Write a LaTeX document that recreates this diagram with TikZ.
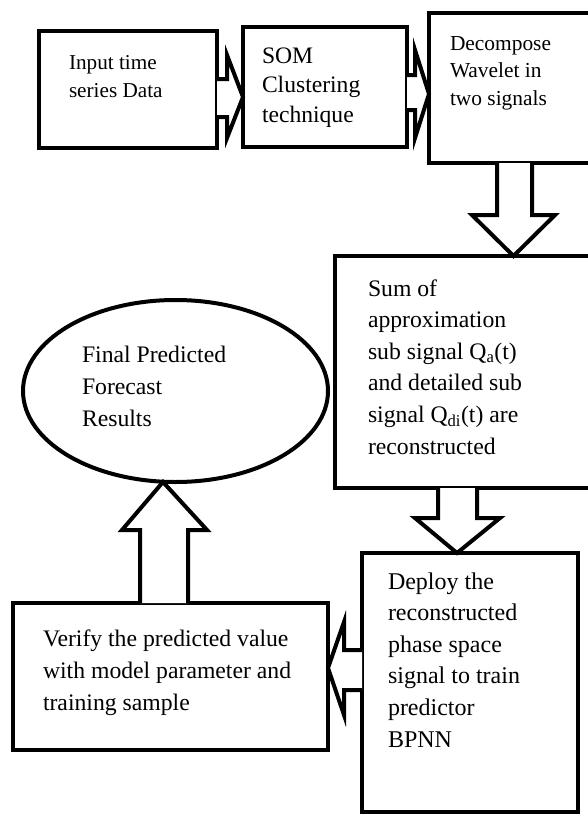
\documentclass[tikz,border=0pt]{standalone}
\usepackage{fontspec}
\setmainfont{Liberation Serif}
\usetikzlibrary{calc,shapes.geometric}
\begin{document}
\begin{tikzpicture}[x=1pt,y=-1pt,
  box/.style={draw,line width=4pt,rectangle,inner sep=0pt,outer sep=0pt},
  oval/.style={draw,line width=4pt,ellipse,inner sep=0pt,outer sep=0pt},
  barrow/.style={draw,line width=4pt,fill=white,line join=miter},
  txt/.style={anchor=base west,align=left,inner sep=0pt,outer sep=0pt},
  small/.style={font=\fontsize{21.2}{28}\selectfont},
  large/.style={font=\fontsize{23.7}{31.6}\selectfont}]
\useasboundingbox (0,0) rectangle (588,814);
\clip (0,0) rectangle (588,814);
% boxes
\node[box,minimum width=178pt,minimum height=117pt] (b1) at (128,89.5) {};
\node[box,minimum width=164pt,minimum height=120pt] (b2) at (325,87) {};
\node[box,minimum width=191pt,minimum height=150pt] (b3) at (524.5,88) {};
\node[box,minimum width=285pt,minimum height=232pt] (b4) at (477.5,372) {};
\node[box,minimum width=216pt,minimum height=259pt] (b6) at (470,682.5) {};
\node[box,minimum width=315pt,minimum height=147pt] (b5) at (170.5,676.5) {};
\node[oval,minimum width=305pt,minimum height=182pt] (e) at (175.5,391) {};
% texts (anchored at the baseline of their last line)
\node[txt,small] (t1) at (69,97) {Input time\\series Data};
\node[txt,font=\fontsize{23.6}{29.5}\selectfont] (t2) at (262,122) {SOM\\Clustering\\technique};
\node[txt,font=\fontsize{21.4}{27.5}\selectfont] (t3) at (450,105) {Decompose\\Wavelet in\\two signals};
\node[txt,large] (t4) at (368,454) {Sum of\\approximation\\sub signal Q\textsubscript{a}(t)\\and detailed sub\\signal Q\textsubscript{di}(t) are\\reconstructed};
\node[txt,large] (te) at (82,426) {Final Predicted\\Forecast\\Results};
\node[txt,large] (t5) at (43,710) {Verify the predicted value\\with model parameter and\\training sample};
\node[txt,font=\fontsize{24}{31.6}\selectfont] (t6) at (388,747) {Deploy the\\reconstructed\\phase space\\signal to train\\predictor\\BPNN};
% block arrows
\draw[barrow] (b1.east |- 0,79) -- (227,79) -- (227,55) -- (b2.west |- 0,97) -- (227,138) -- (227,117) -- (b1.east |- 0,117);
\draw[barrow] (b2.east |- 0,75) -- (415,75) -- (415,50) -- (b3.west |- 0,94) -- (415,138) -- (415,110) -- (b2.east |- 0,110);
\draw[barrow] (b3.south -| 497,0) -- (497,215) -- (472,215) -- (b4.north -| 513.5,0) -- (555,215) -- (532,215) -- (b3.south -| 532,0);
\draw[barrow] (b4.south -| 438,0) -- (438,518) -- (415,518) -- (b6.north -| 457,0) -- (500,518) -- (477,518) -- (b4.south -| 477,0);
\draw[barrow] (b6.west |- 0,650) -- (344,650) -- (344,622) -- (b5.east |- 0,668) -- (344,715) -- (344,690) -- (b6.west |- 0,690);
\draw[barrow] (b5.north -| 140,0) -- (140,530) -- (122,530) -- (e.south -| 163,0) -- (207,530) -- (188,530) -- (b5.north -| 188,0);
\end{tikzpicture}
\end{document}
